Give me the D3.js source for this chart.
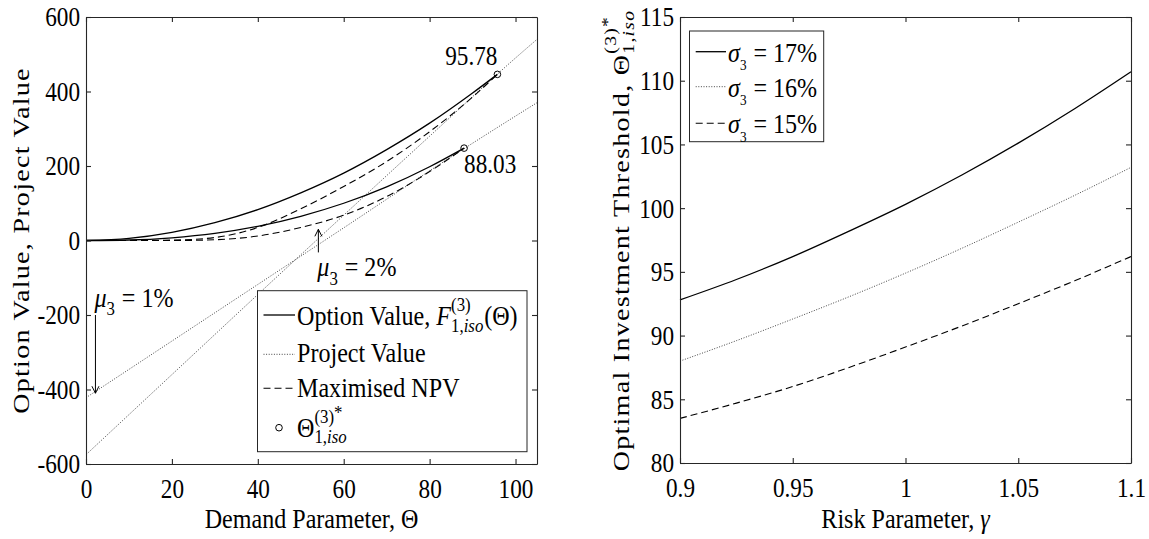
<!DOCTYPE html>
<html>
<head>
<meta charset="utf-8">
<script src="https://cdn.jsdelivr.net/npm/d3@7"></script>
<style>
  body { margin: 0; background: #fff; }
  svg text { font-family: "Liberation Serif", "Times New Roman", serif; fill: #000; }
</style>
</head>
<body>
<svg id="chart" width="1149" height="539"></svg>
<script>
// ---------- left panel: option value vs project value ----------
const thetaOpt2 = [0, 10, 20, 30, 40, 50, 60, 70, 80, 90, 95.78];          // mu3 = 2%
const optionValue2 = [0, 5.8, 22, 48, 83, 128, 181, 244, 315, 396, 446];
const npvValue2 = [0, 0, 1, 8, 35, 85, 145, 212, 292, 385, 446];

const thetaOpt1 = [0, 10, 20, 30, 40, 50, 60, 70, 80, 88.03];              // mu3 = 1%
const optionValue1 = [0, 1.4, 7.3, 19, 38, 65, 100, 144, 198, 248];
const npvValue1 = [0, 0, 0, 2, 12, 35, 68, 118, 185, 248];

const thetaProj = [0, 20, 40, 60, 80, 100, 105];
const projectValue1 = [-422, -270, -118, 34, 187, 334, 370];
const projectValue2 = [-575, -360, -145, 68, 280, 490, 540];

const thresholds = [88.03, 95.78];
const thresholdValues = [248, 446];
const thresholdLabels = ["88.03", "95.78"];

const arrowTheta = [2.2, 54.1];
const arrowFrom = [-200, -32];
const arrowTo = [-410, 30];
const arrowLabels = [" = 1%", " = 2%"];

const leftXTicks = [0, 20, 40, 60, 80, 100];
const leftYTicks = [-600, -400, -200, 0, 200, 400, 600];

// ---------- right panel: threshold vs risk parameter ----------
const gamma = [0.9, 0.925, 0.95, 0.975, 1.0, 1.025, 1.05, 1.075, 1.1];
const sigma17 = [92.8, 94.4, 96.2, 98.2, 100.3, 102.6, 105.1, 107.8, 110.7];
const sigma16 = [88.0, 89.6, 91.3, 93.05, 94.9, 96.85, 98.9, 101.0, 103.2];
const sigma15 = [83.5, 84.7, 86.0, 87.5, 89.1, 90.75, 92.5, 94.3, 96.2];
const sigmaLabels = [" = 17%", " = 16%", " = 15%"];

const rightXTicks = [0.9, 0.95, 1, 1.05, 1.1];
const rightXTickLabels = ["0.9", "0.95", "1", "1.05", "1.1"];
const rightYTicks = [80, 85, 90, 95, 100, 105, 110, 115];

// ---------- drawing ----------
const SX = 0.86;            // horizontal squeeze of the serif face
const FS_TICK = 27, FS_LAB = 28;
const INK = "#262626";
const DOT = "1 1.6", DASH = "7 4";

const svg = d3.select("#chart");

function mathText(parent, x, y, tokens, o = {}) {
  const fs = o.size || FS_LAB;
  let tf = `translate(${x},${y}) scale(${SX},1)`;
  if (o.rotate) tf += ` rotate(${o.rotate})`;
  const g = parent.append("g").attr("transform", tf);
  const put = (t, px, py, size, italic) => {
    const el = g.append("text").attr("x", px).attr("y", py)
      .attr("font-size", size).style("white-space", "pre").text(t);
    if (italic) el.attr("font-style", "italic");
    if (o.spacing) el.attr("letter-spacing", o.spacing);
    return el.node().getComputedTextLength();
  };
  const seq = (items, px, py, size) => {
    let w = 0;
    items.forEach(([t, it, dy]) => { w += put(t, px + w, py + (dy || 0), size, it); });
    return w;
  };
  let cx = 0;
  tokens.forEach(tk => {
    if (typeof tk === "string") cx += put(tk, cx, 0, fs, false);
    else if (tk.i) cx += put(tk.i, cx, 0, fs, true);
    else {
      const ss = fs * (tk.scale || 0.7);
      const w1 = tk.sup ? seq(tk.sup, cx, -fs * 0.5, ss) : 0;
      const w2 = tk.sub ? seq(tk.sub, cx, fs * (tk.subDy || 0.28), ss) : 0;
      cx += Math.max(w1, w2) + 1;
    }
  });
  const shift = o.anchor === "middle" ? -cx / 2 : o.anchor === "end" ? -cx : 0;
  if (shift) g.selectAll("text").attr("x", function () { return +this.getAttribute("x") + shift; });
  return g;
}

function drawAxes(g, x, y, xt, yt, xf, yf) {
  const [xa, xb] = x.range(), [yb, ya] = y.range();
  const ax = g.append("g");
  ax.append("g").attr("class", "xb").attr("transform", `translate(0,${yb})`)
    .call(d3.axisBottom(x).tickValues(xt).tickFormat(xf).tickSizeInner(-5).tickSizeOuter(0));
  ax.append("g").attr("transform", `translate(0,${ya})`)
    .call(d3.axisTop(x).tickValues(xt).tickFormat("").tickSizeInner(-5).tickSizeOuter(0));
  ax.append("g").attr("class", "yl").attr("transform", `translate(${xa},0)`)
    .call(d3.axisLeft(y).tickValues(yt).tickFormat(yf).tickSizeInner(-5).tickSizeOuter(0));
  ax.append("g").attr("transform", `translate(${xb},0)`)
    .call(d3.axisRight(y).tickValues(yt).tickFormat("").tickSizeInner(-5).tickSizeOuter(0));
  ax.selectAll("path, line").attr("stroke", INK).attr("stroke-width", 1.1);
  ax.selectAll(".xb .tick text").attr("font-size", FS_TICK).attr("y", 34).attr("dy", null)
    .attr("transform", `scale(${SX},1)`);
  ax.selectAll(".yl .tick text").attr("font-size", FS_TICK).attr("x", -6 / SX).attr("dy", "0.33em")
    .attr("transform", `scale(${SX},1)`);
}

// ----- left panel -----
const xL = d3.scaleLinear().domain([0, 105]).range([86, 537]);
const yL = d3.scaleLinear().domain([-600, 600]).range([464, 17]);
const left = svg.append("g");
const lineL = d3.line().x(d => xL(d[0])).y(d => yL(d[1])).curve(d3.curveMonotoneX);

[projectValue1, projectValue2].forEach(v => {
  left.append("path").datum(d3.zip(thetaProj, v)).attr("d", lineL)
    .attr("fill", "none").attr("stroke", "#444").attr("stroke-width", 1).attr("stroke-dasharray", DOT);
});
[[thetaOpt1, npvValue1], [thetaOpt2, npvValue2]].forEach(([t, v]) => {
  left.append("path").datum(d3.zip(t, v)).attr("d", lineL)
    .attr("fill", "none").attr("stroke", "#000").attr("stroke-width", 1.1).attr("stroke-dasharray", DASH);
});
[[thetaOpt1, optionValue1], [thetaOpt2, optionValue2]].forEach(([t, v]) => {
  left.append("path").datum(d3.zip(t, v)).attr("d", lineL)
    .attr("fill", "none").attr("stroke", "#000").attr("stroke-width", 1.3);
});
left.selectAll("circle.th").data(d3.zip(thresholds, thresholdValues)).join("circle")
  .attr("class", "th").attr("cx", d => xL(d[0])).attr("cy", d => yL(d[1])).attr("r", 3.3)
  .attr("fill", "none").attr("stroke", "#000").attr("stroke-width", 1);

// threshold value labels
mathText(left, xL(thresholds[1]), yL(thresholdValues[1]) - 9.5, [thresholdLabels[1]], { size: FS_TICK, anchor: "end" });
mathText(left, xL(thresholds[0]), yL(thresholdValues[0]) + 25, [thresholdLabels[0]], { size: FS_TICK });

// drift annotations with arrows
arrowTheta.forEach((t, i) => {
  const x = xL(t), y0 = yL(arrowFrom[i]), y1 = yL(arrowTo[i]);
  const dir = y1 > y0 ? 1 : -1;
  left.append("line").attr("x1", x).attr("x2", x).attr("y1", y0).attr("y2", y1)
    .attr("stroke", "#000").attr("stroke-width", 1);
  left.append("path").attr("d", `M${x - 3.5},${y1 - dir * 7}L${x},${y1}L${x + 3.5},${y1 - dir * 7}`)
    .attr("fill", "none").attr("stroke", "#000").attr("stroke-width", 1);
  const ty = dir > 0 ? y0 - 8 : y0 + 24;
  mathText(left, x - 1, ty, [{ i: "μ" }, { sub: [["3", 0]], subDy: 0.3 }, arrowLabels[i]], { size: FS_LAB });
});

drawAxes(left, xL, yL, leftXTicks, leftYTicks, d => String(d), d => String(d));

// left legend
const lg = left.append("g");
lg.append("rect").attr("x", 257.5).attr("y", 290.7).attr("width", 269.5).attr("height", 161)
  .attr("fill", "#fff").attr("stroke", INK).attr("stroke-width", 1);
const legRows = [315, 354.3, 388.3, 427.7];
lg.append("line").attr("x1", 263.5).attr("x2", 295).attr("y1", legRows[0]).attr("y2", legRows[0])
  .attr("stroke", "#000").attr("stroke-width", 1.3);
lg.append("line").attr("x1", 263.5).attr("x2", 295).attr("y1", legRows[1]).attr("y2", legRows[1])
  .attr("stroke", "#444").attr("stroke-width", 1).attr("stroke-dasharray", DOT);
lg.append("line").attr("x1", 263.5).attr("x2", 295).attr("y1", legRows[2]).attr("y2", legRows[2])
  .attr("stroke", "#000").attr("stroke-width", 1.1).attr("stroke-dasharray", DASH);
lg.append("circle").attr("cx", 279).attr("cy", legRows[3]).attr("r", 3.3)
  .attr("fill", "none").attr("stroke", "#000");
mathText(lg, 297, legRows[0] + 9.5, ["Option Value, ", { i: "F" },
  { sup: [["(3)", 0]], sub: [["1,", 0], ["iso", 1]] }, "(Θ)"]);
mathText(lg, 297, legRows[1] + 8, ["Project Value"]);
mathText(lg, 297, legRows[2] + 8.5, ["Maximised NPV"]);
mathText(lg, 297, legRows[3] + 9, ["Θ", { sup: [["(3)", 0], ["*", 0, -4]], sub: [["1,", 0], ["iso", 1]], subDy: 0.24 }]);

// left axis titles
mathText(left, 311.5, 528, ["Demand Parameter, Θ"], { anchor: "middle" });
mathText(left, 28.5, 240.5, ["Option Value, Project Value"], { rotate: -90, anchor: "middle", spacing: 1.3 });

// ----- right panel -----
const xR = d3.scaleLinear().domain([0.9, 1.1]).range([680, 1131]);
const yR = d3.scaleLinear().domain([80, 115]).range([463, 17]);
const right = svg.append("g");
const lineR = d3.line().x(d => xR(d[0])).y(d => yR(d[1])).curve(d3.curveMonotoneX);
const rStyles = [
  { v: sigma17, stroke: "#000", w: 1.3, dash: null },
  { v: sigma16, stroke: "#444", w: 1, dash: DOT },
  { v: sigma15, stroke: "#000", w: 1.1, dash: DASH }
];
rStyles.forEach(s => {
  right.append("path").datum(d3.zip(gamma, s.v)).attr("d", lineR)
    .attr("fill", "none").attr("stroke", s.stroke).attr("stroke-width", s.w).attr("stroke-dasharray", s.dash);
});

drawAxes(right, xR, yR, rightXTicks, rightYTicks, (d, i) => rightXTickLabels[i], d => String(d));

// right legend
const rg = right.append("g");
rg.append("rect").attr("x", 689.5).attr("y", 31).attr("width", 134.2).attr("height", 110.7)
  .attr("fill", "#fff").attr("stroke", INK).attr("stroke-width", 1);
const rRows = [51.7, 86.7, 123.3];
rStyles.forEach((s, i) => {
  rg.append("line").attr("x1", 695.7).attr("x2", 726).attr("y1", rRows[i]).attr("y2", rRows[i])
    .attr("stroke", s.stroke).attr("stroke-width", s.w).attr("stroke-dasharray", s.dash);
  mathText(rg, 728, rRows[i] + 10, [{ i: "σ" }, { sub: [["3", 0]], subDy: 0.3, scale: 0.55 }, sigmaLabels[i]]);
});

// right axis titles
mathText(right, 905.5, 528, ["Risk Parameter, ", { i: "γ" }], { anchor: "middle" });
mathText(right, 628.5, 240, ["Optimal Investment Threshold, ", "Θ",
  { sup: [["(3)", 0], ["*", 0, -4]], sub: [["1,", 0], ["iso", 1]], subDy: 0.24 }],
  { rotate: -90, anchor: "middle", spacing: 1.3 });
</script>
</body>
</html>
